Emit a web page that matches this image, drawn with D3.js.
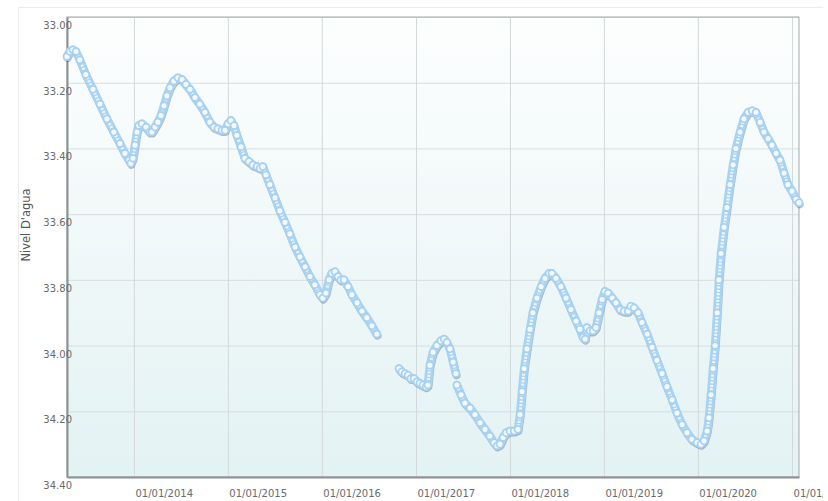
<!DOCTYPE html>
<html>
<head>
<meta charset="utf-8">
<script src="https://cdn.jsdelivr.net/npm/d3@7"></script>
<style>
  html, body { margin: 0; padding: 0; background: #ffffff; }
  svg { display: block; }
</style>
</head>
<body>
<svg id="chart" width="823" height="501"></svg>
<script>
// ---- data ----
const yTickValues = [33.0, 33.2, 33.4, 33.6, 33.8, 34.0, 34.2, 34.4];
const xTickDates = ["2014-01-01","2015-01-01","2016-01-01","2017-01-01","2018-01-01","2019-01-01","2020-01-01","2021-01-01"];
const axisTitle = "Nivel D'agua";
const domainDates = ["2013-04-16", "2021-01-28"];
const domainValues = [33.0, 34.4];

const dates = [
 "2013-04-16","2013-04-27","2013-05-09","2013-05-21","2013-06-05","2013-06-28","2013-07-26","2013-08-22","2013-09-18","2013-10-15",
 "2013-11-08","2013-11-27","2013-12-13","2013-12-20","2013-12-28","2014-01-05","2014-01-13","2014-01-20","2014-02-01","2014-02-17",
 "2014-03-04","2014-03-12","2014-03-24","2014-04-04","2014-04-16","2014-04-28","2014-05-09","2014-05-21","2014-06-05","2014-06-21",
 "2014-07-07","2014-07-22","2014-08-07","2014-08-26","2014-09-14","2014-10-04","2014-10-23","2014-11-08","2014-11-23","2014-12-09",
 "2014-12-21","2015-01-01","2015-01-13","2015-01-25","2015-02-05","2015-02-21","2015-03-08","2015-03-24","2015-04-08","2015-04-24",
 "2015-05-06","2015-05-17","2015-05-29","2015-06-13","2015-07-03","2015-07-22","2015-08-11","2015-08-30","2015-09-19","2015-10-08",
 "2015-10-28","2015-11-16","2015-12-05","2015-12-25","2016-01-05","2016-01-17","2016-01-29","2016-02-09","2016-02-21","2016-03-04",
 "2016-03-15","2016-03-27","2016-04-12","2016-04-27","2016-05-17","2016-06-05","2016-06-24","2016-07-14","2016-08-02",
 "2016-09-15",
 "2016-10-27","2016-11-07","2016-11-19","2016-12-01","2016-12-12","2016-12-24","2017-01-05","2017-01-16","2017-01-28","2017-02-09",
 "2017-02-16","2017-02-24","2017-03-08","2017-03-23","2017-04-08","2017-04-20","2017-05-01","2017-05-13","2017-05-25","2017-06-05",
 "2017-06-07",
 "2017-06-09","2017-06-25","2017-07-10","2017-07-30","2017-08-18","2017-09-07","2017-09-26","2017-10-15","2017-10-31","2017-11-12",
 "2017-11-23","2017-12-05","2017-12-17","2018-01-01","2018-01-17","2018-02-01","2018-02-09","2018-02-17","2018-02-25","2018-03-08",
 "2018-03-20","2018-03-31","2018-04-16","2018-05-02","2018-05-17","2018-06-02","2018-06-13","2018-06-29","2018-07-18","2018-08-07",
 "2018-08-26","2018-09-15","2018-09-30","2018-10-12","2018-10-20","2018-10-27","2018-11-08","2018-11-20","2018-12-01","2018-12-13",
 "2018-12-25","2019-01-05","2019-01-17","2019-02-02","2019-02-17","2019-03-05","2019-03-20","2019-04-05","2019-04-16","2019-04-28",
 "2019-05-14","2019-05-29","2019-06-18","2019-07-07","2019-07-26","2019-08-15","2019-09-03","2019-09-23","2019-10-12","2019-11-01",
 "2019-11-20","2019-12-09","2019-12-29","2020-01-13","2020-01-25","2020-02-06","2020-02-13","2020-02-21","2020-02-29","2020-03-08",
 "2020-03-16","2020-03-23","2020-03-31","2020-04-12","2020-04-23","2020-05-05","2020-05-17","2020-05-28","2020-06-13","2020-06-28",
 "2020-07-14","2020-07-30","2020-08-14","2020-08-30","2020-09-14","2020-09-30","2020-10-15","2020-10-31","2020-11-15","2020-12-01",
 "2020-12-16","2021-01-01","2021-01-17","2021-01-28"
];

const values = [
 33.12,33.105,33.10,33.105,33.13,33.175,33.22,33.265,33.31,33.35,
 33.385,33.415,33.435,33.445,33.43,33.39,33.35,33.33,33.325,33.335,
 33.35,33.35,33.335,33.32,33.30,33.27,33.24,33.215,33.195,33.185,
 33.19,33.205,33.22,33.245,33.265,33.29,33.32,33.335,33.34,33.345,
 33.345,33.325,33.315,33.33,33.36,33.395,33.43,33.44,33.45,33.455,
 33.46,33.455,33.48,33.51,33.55,33.59,33.625,33.66,33.70,33.73,
 33.76,33.79,33.815,33.845,33.855,33.84,33.80,33.78,33.775,33.79,
 33.80,33.80,33.82,33.845,33.87,33.895,33.915,33.94,33.965,
 null,
 34.07,34.08,34.085,34.09,34.10,34.10,34.11,34.115,34.12,34.125,
 34.12,34.06,34.02,34.00,33.985,33.98,33.99,34.01,34.05,34.085,
 null,
 34.12,34.15,34.175,34.19,34.21,34.235,34.255,34.275,34.295,34.305,
 34.30,34.28,34.265,34.26,34.26,34.255,34.21,34.14,34.07,34.01,
 33.95,33.90,33.855,33.82,33.795,33.78,33.78,33.795,33.82,33.855,
 33.89,33.925,33.95,33.975,33.98,33.945,33.955,33.955,33.945,33.90,
 33.86,33.835,33.84,33.855,33.87,33.89,33.895,33.895,33.88,33.885,
 33.90,33.93,33.965,34.005,34.045,34.085,34.125,34.165,34.205,34.24,
 34.265,34.285,34.295,34.30,34.29,34.26,34.22,34.15,34.07,34.00,
 33.90,33.80,33.72,33.64,33.58,33.51,33.45,33.40,33.35,33.31,
 33.29,33.285,33.29,33.32,33.35,33.37,33.39,33.415,33.435,33.475,
 33.51,33.53,33.555,33.565
];

// ---- layout ----
const svg = d3.select("#chart");
const W = +svg.attr("width"), H = +svg.attr("height");
const margin = {left: 67, top: 17, right: W - 799, bottom: H - 477};
const iw = W - margin.left - margin.right;
const ih = H - margin.top - margin.bottom;
const parse = d3.utcParse("%Y-%m-%d");
const fmtDate = d3.utcFormat("%d/%m/%Y");
const fmtVal = d3.format(".2f");

const data = dates.map((d, i) => ({date: parse(d), value: values[i]}));

const x = d3.scaleUtc().domain(domainDates.map(parse)).range([0, iw]);
const y = d3.scaleLinear().domain(domainValues).range([0, ih]);

// outer faint panel border
svg.append("rect").attr("x", 18.5).attr("y", 7.5).attr("width", W).attr("height", H)
  .attr("fill", "none").attr("stroke", "#ececec");

const defs = svg.append("defs");
const grad = defs.append("linearGradient").attr("id", "bg").attr("x1", 0).attr("y1", 0).attr("x2", 0).attr("y2", 1);
grad.append("stop").attr("offset", "0%").attr("stop-color", "#fdfefe");
grad.append("stop").attr("offset", "100%").attr("stop-color", "#e3f2f3");
defs.append("clipPath").attr("id", "plotclip").append("rect")
  .attr("x", -5).attr("y", -5).attr("width", iw + 10).attr("height", ih + 10);

const g = svg.append("g").attr("transform", `translate(${margin.left},${margin.top})`);

g.append("rect").attr("width", iw).attr("height", ih).attr("fill", "url(#bg)");

// gridlines
const yGrid = d3.axisLeft(y).tickValues(yTickValues).tickSize(-iw).tickFormat("");
g.append("g").attr("class", "ygrid").call(yGrid)
  .call(s => s.select(".domain").remove())
  .call(s => s.selectAll("line").attr("stroke", "#d9dede").attr("stroke-width", 1));
const xGrid = d3.axisBottom(x).tickValues(xTickDates.map(parse)).tickSize(ih).tickFormat("");
g.append("g").attr("class", "xgrid").call(xGrid)
  .call(s => s.select(".domain").remove())
  .call(s => s.selectAll("line").attr("stroke", "#d3d9d9").attr("stroke-width", 1));

// plot frame
g.append("rect").attr("width", iw).attr("height", ih).attr("fill", "none")
  .attr("stroke", "#a4a9aa").attr("stroke-width", 1);

// y axis labels
const yAxis = d3.axisLeft(y).tickValues(yTickValues).tickSize(0).tickPadding(0).tickFormat(fmtVal);
g.append("g").attr("class", "yaxis").call(yAxis)
  .call(s => s.select(".domain").attr("stroke", "#8c9192").attr("stroke-width", 2))
  .call(s => s.selectAll("text")
    .attr("x", 5).attr("dy", 0).attr("y", 11.5)
    .attr("fill", "#6a6a6a").attr("font-family", "DejaVu Sans").attr("font-size", 10));

// x axis labels
const xAxis = d3.axisBottom(x).tickValues(xTickDates.map(parse)).tickSize(0).tickPadding(0).tickFormat(fmtDate);
g.append("g").attr("class", "xaxis").attr("transform", `translate(0,${ih})`).call(xAxis)
  .call(s => s.select(".domain").attr("stroke", "#8c9192").attr("stroke-width", 2))
  .call(s => s.selectAll("text")
    .attr("text-anchor", "start").attr("x", 1).attr("dy", 0).attr("y", 20)
    .attr("fill", "#6a6a6a").attr("font-family", "DejaVu Sans").attr("font-size", 10));

// axis title
svg.append("text").attr("transform", "translate(30,225) rotate(-90)")
  .attr("text-anchor", "middle").attr("font-family", "DejaVu Sans").attr("font-size", 11.5)
  .attr("fill", "#555").text(axisTitle);

// series
const line = d3.line().defined(d => d.value !== null).x(d => x(d.date)).y(d => y(d.value));
const series = g.append("g").attr("clip-path", "url(#plotclip)");
series.append("path").datum(data).attr("d", line)
  .attr("fill", "none").attr("stroke", "#4d5b66").attr("stroke-opacity", 0.4)
  .attr("stroke-width", 8).attr("stroke-linejoin", "round").attr("stroke-linecap", "round")
  .attr("transform", "translate(0.6,1.6)");
series.append("path").datum(data).attr("d", line)
  .attr("fill", "none").attr("stroke", "#a9d3f3")
  .attr("stroke-width", 8.5).attr("stroke-linejoin", "round").attr("stroke-linecap", "round");
series.append("path").datum(data).attr("d", line)
  .attr("fill", "none").attr("stroke", "#eef7fe")
  .attr("stroke-width", 3).attr("stroke-dasharray", "2,1.4")
  .attr("stroke-linejoin", "round");
series.selectAll("circle").data(data.filter(d => d.value !== null)).join("circle")
  .attr("cx", d => x(d.date)).attr("cy", d => y(d.value)).attr("r", 3.4)
  .attr("fill", "#f3f9fe").attr("stroke", "#a6d1f2").attr("stroke-width", 1.7);
</script>
</body>
</html>
